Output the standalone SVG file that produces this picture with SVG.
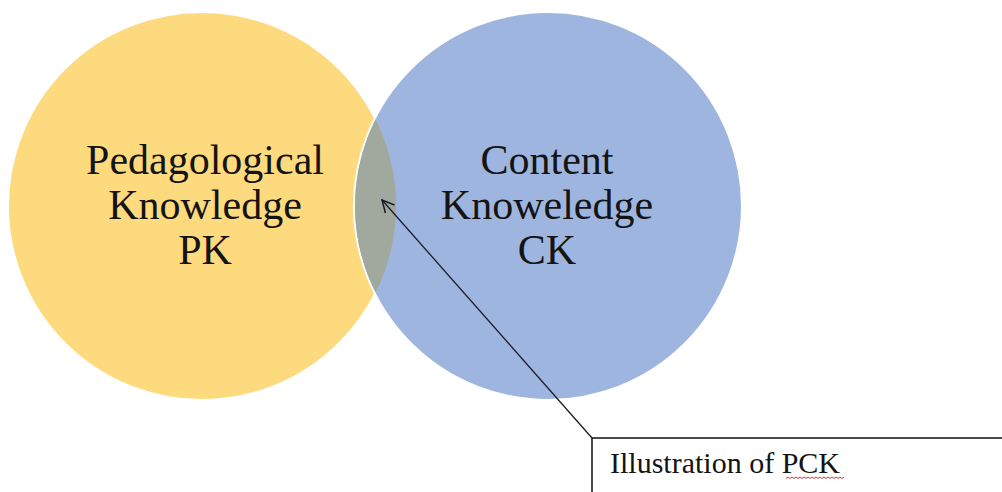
<svg xmlns="http://www.w3.org/2000/svg" width="1002" height="492" viewBox="0 0 1002 492">
<defs>
<style>
.lbl{font-family:"Liberation Serif","Times New Roman",serif;font-size:42px;fill:#141414;text-anchor:middle}
.note{font-family:"Liberation Serif","Times New Roman",serif;font-size:30px;fill:#141414}
</style>
<clipPath id="clipY"><circle cx="202" cy="206" r="194"/></clipPath>
<marker id="open" markerWidth="16" markerHeight="16" refX="14" refY="8" orient="auto" markerUnits="userSpaceOnUse">
<path d="M2,2 L14,8 L2,14" fill="none" stroke="#1a1a2a" stroke-width="1.5"/>
</marker>
</defs>
<rect width="1002" height="492" fill="#ffffff"/>
<g id="pk">
<circle cx="202" cy="206" r="194" fill="#FDDA7E" stroke="#ffffff" stroke-width="2"/>
</g>
<g id="ck">
<circle cx="548" cy="206" r="194" fill="#9EB6DF" stroke="#ffffff" stroke-width="2"/>
</g>
<g id="pck">
<circle cx="548" cy="206" r="193" fill="#A1A89D" clip-path="url(#clipY)"/>
</g>
<g id="pk-text">
<text class="lbl" x="205" y="174">Pedagological</text>
<text class="lbl" x="205" y="219">Knowledge</text>
<text class="lbl" x="205" y="264">PK</text>
</g>
<g id="ck-text">
<text class="lbl" x="547" y="174">Content</text>
<text class="lbl" x="547" y="219">Knoweledge</text>
<text class="lbl" x="547" y="264">CK</text>
</g>
<g id="connectors">
<line x1="592" y1="438" x2="382" y2="200" stroke="#1a1a2a" stroke-width="1.3" marker-end="url(#open)"/>
</g>
<g id="callout">
<rect x="592" y="438" width="420" height="70" fill="#ffffff" stroke="#111" stroke-width="1.5"/>
<text class="note" x="610" y="473">Illustration of PCK</text>
<path d="M786,478.5 l2,-1.5 l2,1.5 l2,-1.5 l2,1.5 l2,-1.5 l2,1.5 l2,-1.5 l2,1.5 l2,-1.5 l2,1.5 l2,-1.5 l2,1.5 l2,-1.5 l2,1.5 l2,-1.5 l2,1.5 l2,-1.5 l2,1.5 l2,-1.5 l2,1.5 l2,-1.5 l2,1.5 l2,-1.5 l2,1.5 l2,-1.5 l2,1.5 l2,-1.5 l2,1.5 l2,-1.5" fill="none" stroke="#d02020" stroke-width="0.9"/>
</g>
</svg>
